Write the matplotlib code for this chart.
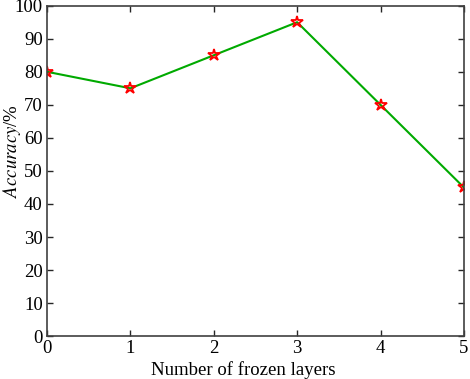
import numpy as np
import matplotlib
matplotlib.use("Agg")
import matplotlib.pyplot as plt

# data
frozen_layers = [0, 1, 2, 3, 4, 5]
accuracy = [80, 75, 85, 95, 70, 45]

plt.rcParams['font.family'] = ['Liberation Serif', 'DejaVu Serif']
plt.rcParams['mathtext.fontset'] = 'stix'

fig = plt.figure(figsize=(4.7, 3.79), dpi=100)
ax = fig.add_axes([0.1, 0.113, 0.887, 0.872])

ax.plot(frozen_layers, accuracy, color='#00aa00', linewidth=1.5,
        marker='*', markersize=9, markerfacecolor='none', markeredgecolor='red',
        markeredgewidth=1.3)

ax.set_xlim(0, 5)
ax.set_ylim(0, 100)
ax.set_xticks(frozen_layers)
ax.set_yticks(np.arange(0, 101, 10))
ax.tick_params(direction='in', top=True, right=True, labelsize=13.5, length=4,
               width=1, colors='#262626', labelcolor='black', pad=3)
for s in ax.spines.values():
    s.set_linewidth(1.2)
    s.set_color('#404040')

ax.set_xlabel("Number of frozen layers", fontsize=13.5)
ax.set_ylabel(r"$\mathit{Accuracy}$/%", fontsize=13.5)
ax.xaxis.set_label_coords(0.47, -0.074)
ax.yaxis.set_label_coords(-0.057, 0.56)

plt.savefig("out.png", dpi=100)
